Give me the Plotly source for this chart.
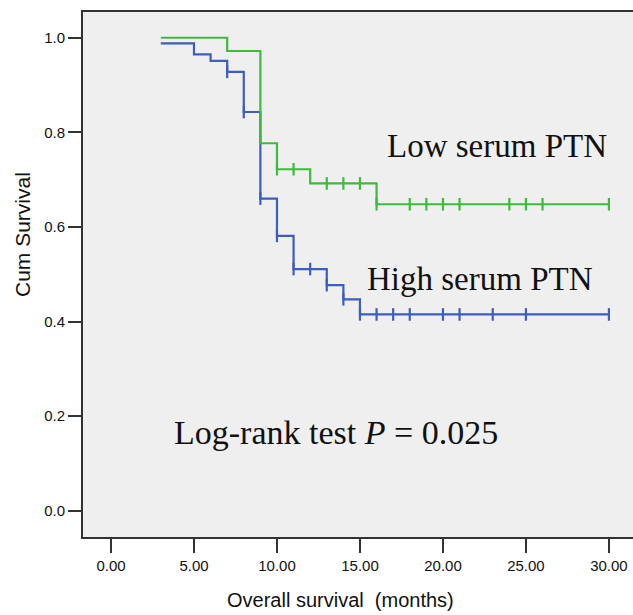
import plotly.graph_objects as go

# ---- data ----
low_times = [3, 7, 9, 10, 12, 16, 30]
low_surv = [1.0, 0.972, 0.777, 0.722, 0.692, 0.648, 0.648]
low_censor = [10, 11, 13, 14, 15, 16, 18, 19, 20, 21, 24, 25, 26, 30]

high_times = [3, 5, 6, 7, 8, 9, 10, 11, 13, 14, 15, 30]
high_surv = [0.988, 0.965, 0.951, 0.928, 0.843, 0.660, 0.581, 0.511, 0.477, 0.447, 0.415, 0.415]
high_censor = [7, 8, 9, 10, 11, 12, 13, 14, 15, 16, 17, 18, 20, 21, 23, 25, 30]

x_ticks = [0, 5, 10, 15, 20, 25, 30]
y_ticks = [0.0, 0.2, 0.4, 0.6, 0.8, 1.0]

GREEN = "#3fba3f"
BLUE = "#3f5cbf"


def surv_at(times, surv, t):
    val = surv[0]
    for ti, si in zip(times, surv):
        if ti <= t:
            val = si
    return val


fig = go.Figure()

for times, surv, cens, col in [
    (high_times, high_surv, high_censor, BLUE),
    (low_times, low_surv, low_censor, GREEN),
]:
    fig.add_trace(go.Scatter(
        x=times, y=surv, mode="lines", line=dict(color=col, width=2.2, shape="hv"),
        showlegend=False, hoverinfo="skip"))
    fig.add_trace(go.Scatter(
        x=cens, y=[surv_at(times, surv, t) for t in cens], mode="markers",
        marker=dict(symbol="line-ns", size=9, line=dict(color=col, width=2.2)),
        showlegend=False, hoverinfo="skip"))

serif = "Liberation Serif, Times New Roman, serif"
sans = "Liberation Sans, Arial, sans-serif"

annos = [
    dict(x=16.5, y=0.771, text="Low serum PTN", xanchor="left", yanchor="middle",
         xref="x", yref="y", font=dict(family=serif, size=33, color="#111"), showarrow=False),
    dict(x=15.3, y=0.49, text="High serum PTN", xanchor="left", yanchor="middle",
         xref="x", yref="y", font=dict(family=serif, size=33, color="#111"), showarrow=False),
    dict(x=3.68, y=0.166, text="Log-rank test <i>P</i> = 0.025", xanchor="left", yanchor="middle",
         xref="x", yref="y", font=dict(family=serif, size=34, color="#111"), showarrow=False),
    dict(x=0.469, y=-0.12, text="Overall survival  (months)", xanchor="center", yanchor="middle",
         xref="paper", yref="paper", font=dict(family=sans, size=20, color="#111"), showarrow=False),
    dict(x=-0.111, y=0.577, text="Cum Survival", xanchor="center", yanchor="middle", textangle=-90,
         xref="paper", yref="paper", font=dict(family=sans, size=21, color="#111"), showarrow=False),
]

fig.update_layout(
    width=633, height=615,
    margin=dict(l=83, r=0, t=12, b=78),
    paper_bgcolor="white", plot_bgcolor="#efefef",
    annotations=annos,
    xaxis=dict(range=[-1.687, 31.45], tickvals=x_ticks, ticktext=[f"{v:.2f}" for v in x_ticks],
               showgrid=False, zeroline=False, showline=True, linecolor="#333", linewidth=2,
               mirror=True, ticks="outside", ticklen=14, tickwidth=2, tickcolor="#333",
               tickfont=dict(family=sans, size=15, color="#111")),
    yaxis=dict(range=[-0.0556, 1.0545], tickvals=y_ticks, ticktext=[f"{v:.1f}" for v in y_ticks],
               showgrid=False, zeroline=False, showline=True, linecolor="#333", linewidth=2,
               mirror=False, ticks="outside", ticklen=13, tickwidth=2, tickcolor="#333",
               tickfont=dict(family=sans, size=15, color="#111")),
)

# remove the default page margin / scrollbars so the figure fills the window exactly
fig.write_html(
    "out.html",
    config={"displayModeBar": False},
    post_script="document.body.style.margin='0';document.documentElement.style.overflow='hidden';document.body.style.overflow='hidden';",
)
